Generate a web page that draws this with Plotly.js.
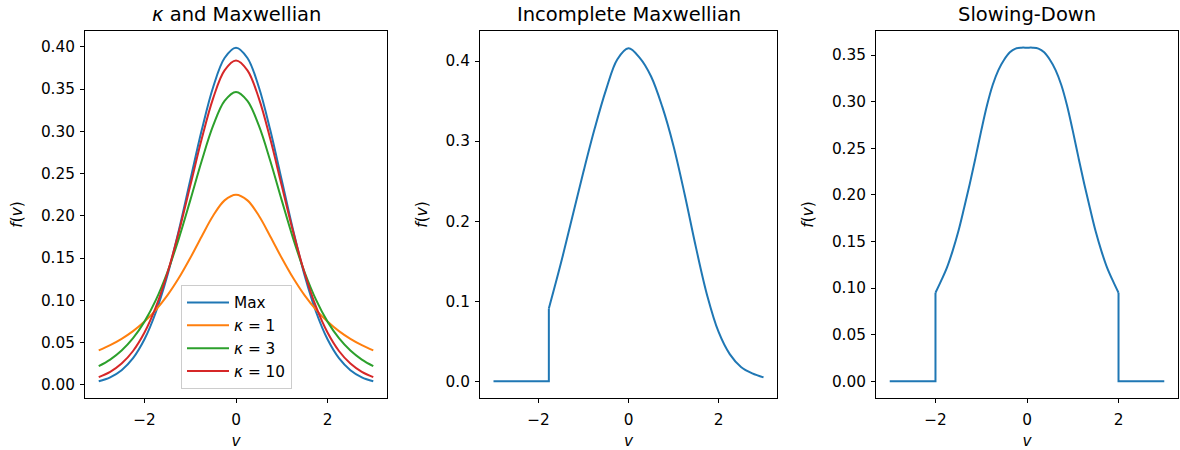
<!DOCTYPE html>
<html>
<head>
<meta charset="utf-8">
<script src="https://cdn.plot.ly/plotly-3.0.1.min.js"></script>
<style>html,body{margin:0;padding:0;background:#fff;}#chart{width:1180px;height:450px;}</style>
</head>
<body>
<div id="chart"></div>
<script>
// ---------- data ----------
const vGrid = [-3, -2.75, -2.5, -2.25, -2, -1.75, -1.5, -1.25, -1, -0.75, -0.5, -0.25, 0,
               0.25, 0.5, 0.75, 1, 1.25, 1.5, 1.75, 2, 2.25, 2.5, 2.75, 3];

const maxwellian = [0.0044, 0.0091, 0.0175, 0.0317, 0.0540, 0.0863, 0.1295, 0.1826, 0.2420, 0.3011, 0.3521, 0.3867, 0.3989,
                    0.3867, 0.3521, 0.3011, 0.2420, 0.1826, 0.1295, 0.0863, 0.0540, 0.0317, 0.0175, 0.0091, 0.0044];
const kappa1 = [0.0409, 0.0471, 0.0546, 0.0637, 0.0750, 0.0889, 0.1059, 0.1264, 0.1501, 0.1757, 0.2001, 0.2183, 0.2251,
                0.2183, 0.2001, 0.1757, 0.1501, 0.1264, 0.1059, 0.0889, 0.0750, 0.0637, 0.0546, 0.0471, 0.0409];
const kappa3 = [0.0222, 0.0300, 0.0407, 0.0553, 0.0749, 0.1006, 0.1333, 0.1731, 0.2183, 0.2649, 0.3066, 0.3360, 0.3466,
                0.3360, 0.3066, 0.2649, 0.2183, 0.1731, 0.1333, 0.1006, 0.0749, 0.0553, 0.0407, 0.0300, 0.0222];
const kappa10 = [0.0093, 0.0155, 0.0253, 0.0402, 0.0620, 0.0923, 0.1321, 0.1809, 0.2356, 0.2908, 0.3389, 0.3720, 0.3837,
                 0.3720, 0.3389, 0.2908, 0.2356, 0.1809, 0.1321, 0.0923, 0.0620, 0.0402, 0.0253, 0.0155, 0.0093];

// Incomplete Maxwellian: zero below the cut-off, then the curve
const incZeroV = [-3, -1.77, -1.77];
const incZeroF = [0, 0, 0.091];
const incV = [-1.77, -1.5, -1.25, -1, -0.75, -0.5, -0.25, 0, 0.25, 0.5, 0.75, 1, 1.25, 1.5, 1.75, 2, 2.25, 2.5, 2.75, 3];
const incF = [0.091, 0.148, 0.205, 0.262, 0.316, 0.364, 0.402, 0.416, 0.404, 0.381, 0.343, 0.294, 0.233, 0.167, 0.107, 0.062, 0.034, 0.018, 0.010, 0.005];

// Slowing-down: zero outside |v| > 2
const sdLeftV = [-3, -2, -2];
const sdLeftF = [0, 0, 0.095];
const sdRightV = [2, 2, 3];
const sdRightF = [0.095, 0, 0];
const sdV = [-2, -1.875, -1.75, -1.625, -1.5, -1.375, -1.25, -1.125, -1, -0.875, -0.75, -0.625, -0.5, -0.375, -0.25, -0.125, 0,
             0.125, 0.25, 0.375, 0.5, 0.625, 0.75, 0.875, 1, 1.125, 1.25, 1.375, 1.5, 1.625, 1.75, 1.875, 2];
const sdF = [0.095, 0.108, 0.122, 0.140, 0.161, 0.186, 0.212, 0.240, 0.269, 0.296, 0.318, 0.334, 0.345, 0.353, 0.357, 0.358, 0.358,
             0.358, 0.357, 0.353, 0.345, 0.334, 0.318, 0.296, 0.269, 0.240, 0.212, 0.186, 0.161, 0.140, 0.122, 0.108, 0.095];

const seriesNames = ['Max', '<i>κ</i> = 1', '<i>κ</i> = 3', '<i>κ</i> = 10'];
const panelTitles = ['<i>κ</i> and Maxwellian', 'Incomplete Maxwellian', 'Slowing-Down'];
const xTickVals = [-2, 0, 2];

// ---------- styling ----------
const C = ['#1f77b4', '#ff7f0e', '#2ca02c', '#d62728'];
const FONT = 'DejaVu Sans, sans-serif';
const W = 1180, H = 450;
const px = (a, b) => [a / W, b / W];
const yDom = [1 - 398 / H, 1 - 31 / H];

const lw = 2;
const traces = [
  {x: vGrid, y: maxwellian, name: seriesNames[0], line: {color: C[0], width: lw, shape: 'spline'}, xaxis: 'x', yaxis: 'y'},
  {x: vGrid, y: kappa1, name: seriesNames[1], line: {color: C[1], width: lw, shape: 'spline'}, xaxis: 'x', yaxis: 'y'},
  {x: vGrid, y: kappa3, name: seriesNames[2], line: {color: C[2], width: lw, shape: 'spline'}, xaxis: 'x', yaxis: 'y'},
  {x: vGrid, y: kappa10, name: seriesNames[3], line: {color: C[3], width: lw, shape: 'spline'}, xaxis: 'x', yaxis: 'y'},
  {x: incZeroV, y: incZeroF, line: {color: C[0], width: lw}, xaxis: 'x2', yaxis: 'y2', showlegend: false},
  {x: incV, y: incF, line: {color: C[0], width: lw, shape: 'spline'}, xaxis: 'x2', yaxis: 'y2', showlegend: false},
  {x: sdLeftV, y: sdLeftF, line: {color: C[0], width: lw}, xaxis: 'x3', yaxis: 'y3', showlegend: false},
  {x: sdV, y: sdF, line: {color: C[0], width: lw, shape: 'spline'}, xaxis: 'x3', yaxis: 'y3', showlegend: false},
  {x: sdRightV, y: sdRightF, line: {color: C[0], width: lw}, xaxis: 'x3', yaxis: 'y3', showlegend: false}
].map(t => Object.assign({type: 'scatter', mode: 'lines', hoverinfo: 'skip'}, t));

const tickFont = {family: FONT, size: 15.3, color: '#000'};
function xAx(dom, anchor) {
  return {domain: dom, anchor: anchor, range: [-3.3, 3.3], tickvals: xTickVals, ticks: 'outside', ticklen: 4, tickwidth: 1,
          tickcolor: '#000', showline: true, linecolor: '#000', linewidth: 1, mirror: true, showgrid: false, zeroline: false,
          ticklabelstandoff: 4,
          tickfont: tickFont, title: {text: '<i>v</i>', font: {family: FONT, size: 15.3, color: '#000'}, standoff: 8}, automargin: false};
}
function yAx(range, dtick, fmt, anchor) {
  return {domain: yDom, anchor: anchor, range: range, dtick: dtick, tick0: 0, tickformat: fmt, ticks: 'outside', ticklen: 4, tickwidth: 1,
          tickcolor: '#000', showline: true, linecolor: '#000', linewidth: 1, mirror: true, showgrid: false, zeroline: false,
          ticklabelstandoff: 2,
          tickfont: tickFont, title: {text: '<i>f</i>(<i>v</i>)', font: {family: FONT, size: 15.3, color: '#000'}, standoff: 14}, automargin: false};
}

const d1 = px(85, 387), d2 = px(480, 777), d3 = px(876, 1178);
const layout = {
  width: W, height: H,
  margin: {l: 0, r: 0, t: 0, b: 0},
  paper_bgcolor: '#fff', plot_bgcolor: '#fff',
  font: {family: FONT, color: '#000'},
  xaxis: xAx(d1, 'y'), yaxis: yAx([-0.0154, 0.4186], 0.05, '.2f', 'x'),
  xaxis2: xAx(d2, 'y2'), yaxis2: yAx([-0.0208, 0.4375], 0.1, '.1f', 'x2'),
  xaxis3: xAx(d3, 'y3'), yaxis3: yAx([-0.0179, 0.3759], 0.05, '.2f', 'x3'),
  showlegend: true,
  legend: {x: 181 / W, y: 1 - 285 / H, xanchor: 'left', yanchor: 'top', bgcolor: 'rgba(255,255,255,0.8)',
           bordercolor: '#cccccc', borderwidth: 1, font: {family: FONT, size: 15.3, color: '#000'},
           itemwidth: 42, traceorder: 'normal'},
  annotations: [d1, d2, d3].map((d, i) => ({
    text: panelTitles[i], xref: 'paper', yref: 'paper', x: (d[0] + d[1]) / 2, y: yDom[1],
    xanchor: 'center', yanchor: 'bottom', yshift: 3, showarrow: false,
    font: {family: FONT, size: 19.5, color: '#000'}
  }))
};

Plotly.newPlot('chart', traces, layout, {displayModeBar: false, staticPlot: true});
</script>
</body>
</html>
